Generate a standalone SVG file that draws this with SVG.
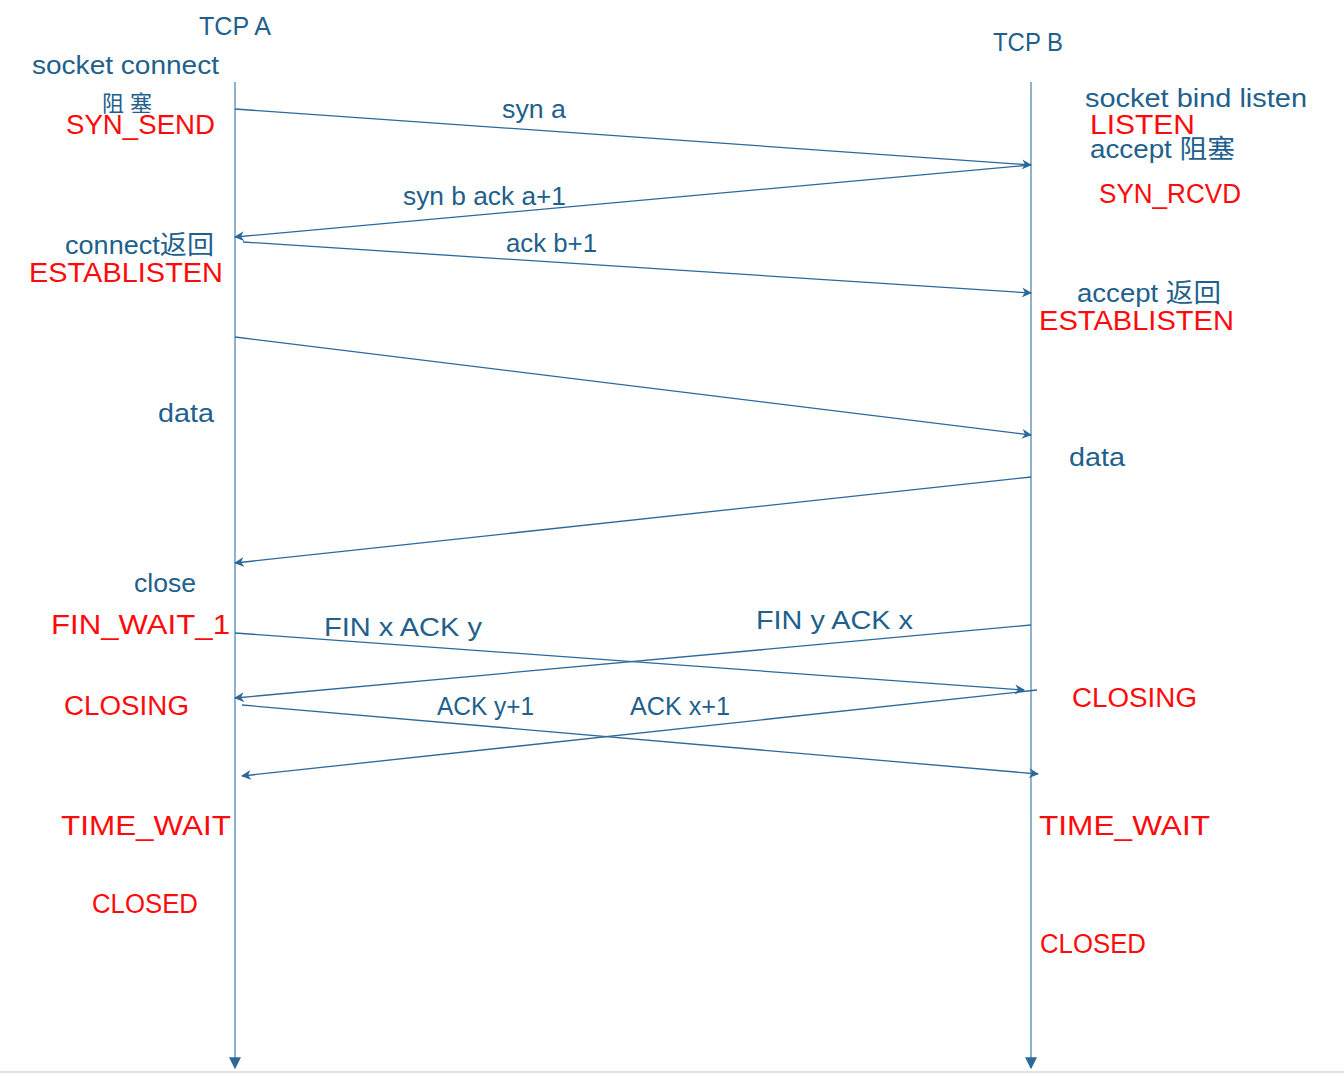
<svg xmlns="http://www.w3.org/2000/svg" width="1344" height="1078" viewBox="0 0 1344 1078">
<style>
text{font-family:"Liberation Sans","Noto Sans CJK SC",sans-serif;}
.b{fill:#215f8c;font-size:26px;}
.r{fill:#ff0a0a;font-size:27px;}
.s{fill:#215f8c;font-size:22px;}
.life{stroke:#8cb2d0;stroke-width:2;fill:none;}
.msg{stroke:#2c6999;stroke-width:1.3;fill:none;marker-end:url(#ah);}
</style>
<defs>
<marker id="ah" viewBox="0 0 10 10" refX="9" refY="5" markerWidth="10" markerHeight="10" markerUnits="userSpaceOnUse" orient="auto">
<path d="M0,0 L10,5 L0,10 L3,5 Z" fill="#2c6999"/>
</marker>
<marker id="ahl" viewBox="0 0 10 10" refX="9" refY="5" markerWidth="12" markerHeight="12" markerUnits="userSpaceOnUse" orient="auto">
<path d="M0,0 L10,5 L0,10 Z" fill="#2c6999"/>
</marker>
</defs>
<rect width="1344" height="1078" fill="#ffffff"/>
<line x1="0" y1="1072" x2="1344" y2="1072" stroke="#d8d8d8" stroke-width="1.5"/>
<g id="lifelineA"><line class="life" x1="235" y1="82" x2="235" y2="1068" marker-end="url(#ahl)"/></g>
<g id="lifelineB"><line class="life" x1="1031" y1="82" x2="1031" y2="1068" marker-end="url(#ahl)"/></g>
<g id="connectors">
<line class="msg" x1="235" y1="109" x2="1031" y2="165"/>
<line class="msg" x1="1031" y1="165" x2="235" y2="237"/>
<line class="msg" x1="243" y1="242" x2="1031" y2="293"/>
<line class="msg" x1="235" y1="337" x2="1031" y2="435"/>
<line class="msg" x1="1031" y1="477" x2="235" y2="563"/>
<line class="msg" x1="235" y1="633" x2="1024" y2="690"/>
<line class="msg" x1="1031" y1="625" x2="235" y2="698"/>
<line class="msg" x1="242" y1="705" x2="1038" y2="774"/>
<line class="msg" x1="1037" y1="690" x2="242" y2="776"/>
</g>
<g id="labelsA">
<text class="b" x="199" y="35" textLength="72" lengthAdjust="spacingAndGlyphs">TCP A</text>
<text class="b" x="32" y="74" textLength="187" lengthAdjust="spacingAndGlyphs">socket connect</text>
<text class="s" x="102" y="111" font-size="21" textLength="50" lengthAdjust="spacing">阻塞</text>
<text class="r" x="66" y="134" textLength="149" lengthAdjust="spacingAndGlyphs">SYN_SEND</text>
<text class="b" x="65" y="254" textLength="149" lengthAdjust="spacingAndGlyphs">connect返回</text>
<text class="r" x="29" y="282" textLength="194" lengthAdjust="spacingAndGlyphs">ESTABLISTEN</text>
<text class="b" x="158" y="422" textLength="56" lengthAdjust="spacingAndGlyphs">data</text>
<text class="b" x="134" y="592" textLength="62" lengthAdjust="spacingAndGlyphs">close</text>
<text class="r" x="51" y="634" textLength="179" lengthAdjust="spacingAndGlyphs">FIN_WAIT_1</text>
<text class="r" x="64" y="715" textLength="125" lengthAdjust="spacingAndGlyphs">CLOSING</text>
<text class="r" x="61" y="835" textLength="170" lengthAdjust="spacingAndGlyphs">TIME_WAIT</text>
<text class="r" x="92" y="913" textLength="106" lengthAdjust="spacingAndGlyphs">CLOSED</text>
</g>
<g id="labelsB">
<text class="b" x="993" y="51" textLength="70" lengthAdjust="spacingAndGlyphs">TCP B</text>
<text class="b" x="1085" y="107" textLength="222" lengthAdjust="spacingAndGlyphs">socket bind listen</text>
<text class="r" x="1090" y="134" textLength="105" lengthAdjust="spacingAndGlyphs">LISTEN</text>
<text class="b" x="1090" y="158" textLength="145" lengthAdjust="spacingAndGlyphs">accept 阻塞</text>
<text class="r" x="1099" y="203" textLength="142" lengthAdjust="spacingAndGlyphs">SYN_RCVD</text>
<text class="b" x="1077" y="302" textLength="144" lengthAdjust="spacingAndGlyphs">accept 返回</text>
<text class="r" x="1039" y="330" textLength="195" lengthAdjust="spacingAndGlyphs">ESTABLISTEN</text>
<text class="b" x="1069" y="466" textLength="56" lengthAdjust="spacingAndGlyphs">data</text>
<text class="r" x="1072" y="707" textLength="125" lengthAdjust="spacingAndGlyphs">CLOSING</text>
<text class="r" x="1039" y="835" textLength="171" lengthAdjust="spacingAndGlyphs">TIME_WAIT</text>
<text class="r" x="1040" y="953" textLength="106" lengthAdjust="spacingAndGlyphs">CLOSED</text>
</g>
<g id="messageLabels">
<text class="b" x="502" y="118" textLength="64" lengthAdjust="spacingAndGlyphs">syn a</text>
<text class="b" x="403" y="205" textLength="163" lengthAdjust="spacingAndGlyphs">syn b ack a+1</text>
<text class="b" x="506" y="252" textLength="91" lengthAdjust="spacingAndGlyphs">ack b+1</text>
<text class="b" x="324" y="636" textLength="158" lengthAdjust="spacingAndGlyphs">FIN x ACK y</text>
<text class="b" x="756" y="629" textLength="157" lengthAdjust="spacingAndGlyphs">FIN y ACK x</text>
<text class="b" x="437" y="715" textLength="97" lengthAdjust="spacingAndGlyphs">ACK y+1</text>
<text class="b" x="630" y="715" textLength="100" lengthAdjust="spacingAndGlyphs">ACK x+1</text>
</g>
</svg>
